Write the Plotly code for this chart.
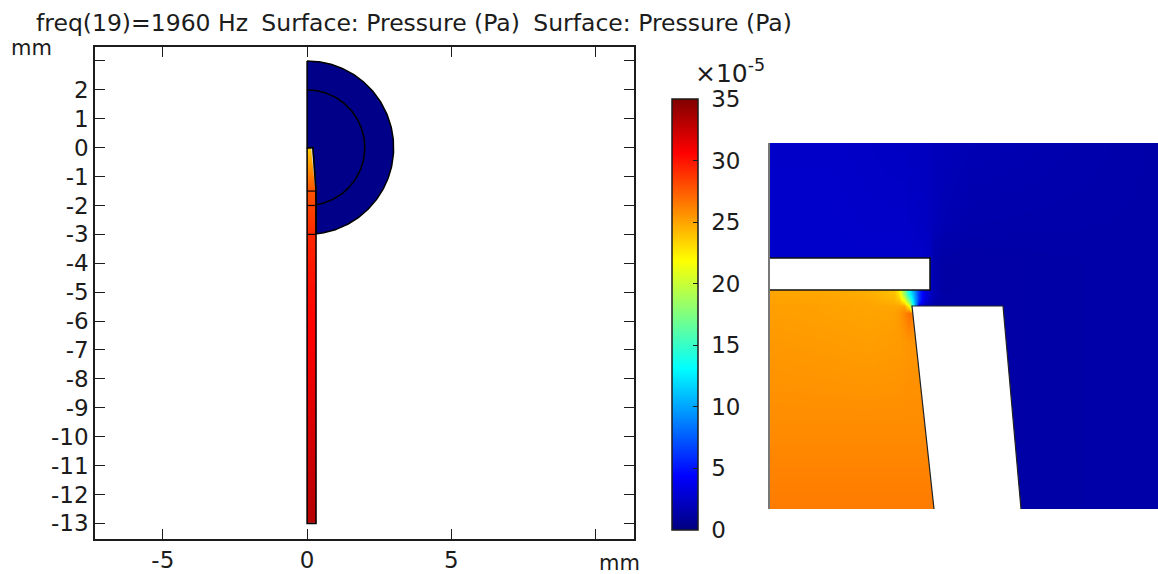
import numpy as np
import plotly.graph_objects as go

W, H = 1158, 574
FONT = "DejaVu Sans"
INK = "#1c1c1c"
NAVY = "#000088"
FS = 23

title_sep = "\u00a0\u2005"
title_parts = ["freq(19)=1960 Hz", "Surface: Pressure (Pa)", "Surface: Pressure (Pa)"]
x_tick_vals = [-5, 0, 5]
x_tick_text = ["-5", "0", "5"]
x_unlabelled = [10]
y_tick_vals = [2, 1, 0, -1, -2, -3, -4, -5, -6, -7, -8, -9, -10, -11, -12, -13]
y_tick_text = ["2", "1", "0", "-1", "-2", "-3", "-4", "-5", "-6", "-7", "-8", "-9", "-10", "-11", "-12", "-13"]
y_unlabelled = [3]
cbar_ticks = [0, 5, 10, 15, 20, 25, 30, 35]
cbar_text = ["\u00a00", "\u00a05", "\u00a010", "\u00a015", "\u00a020", "\u00a025", "\u00a030", "\u00a035"]

jet = [[0, "#000080"], [0.125, "#0000ff"], [0.375, "#00ffff"], [0.625, "#ffff00"],
       [0.875, "#ff0000"], [1, "#800000"]]

# left panel: geometry (mm)
outer_r, inner_r = 3.0, 2.0
tube_w = 0.31
tube_x = [0.001, 0.002, 0.308, 0.309]
tube_y = [-0.01, -0.02, -0.5, -1.0, -1.5, -2, -3, -4, -5, -7, -9, -11, -12.98, -12.99]
tube_p = [23.5, 23.5, 25.0, 26.5, 27.8, 28.3, 29.3, 29.8, 30.2, 30.8, 31.6, 32.4, 33.2, 33.2]
tube_top_x = 0.2
wedge_x = [0.13, tube_top_x, tube_w, 0.29]
wedge_y = [0, 0, -1.5, -1.5]
section_y = [-1.5, -2, -3]

# right panel: zoom window (mm-like local units)
z_x = [0, .06, .10, .125, .13, .135, .14, .145, .15, .155, .16, .165, .175, .2, .389]
z_y = [0, -.08, -.115, -.147, -.151, -.155, -.159, -.163, -.17, -.2, -.28, -.366]
z_p = [
    [2.5, 2.5, 2.4, 2.3, 2.3, 2.3, 2.2, 2.2, 2.2, 2.2, 2.1, 2.05, 2.0, 1.8, 1.4],
    [2.6, 2.6, 2.5, 2.5, 2.5, 2.5, 2.4, 2.4, 2.3, 2.3, 2.15, 1.95, 1.75, 1.5, 1.4],
    [2.6, 2.6, 2.6, 2.6, 2.6, 2.6, 2.6, 2.5, 2.5, 2.5, 2.3, 1.5, 1.3, 1.3, 1.4],
    [25.0, 24.9, 24.7, 23.9, 22.4, 18.0, 13.0, 9.5, 6.0, 3.5, 2.5, 1.6, 1.2, 1.3, 1.4],
    [25.0, 24.9, 24.7, 24.1, 22.7, 18.5, 13.5, 10.0, 6.0, 3.6, 2.5, 1.7, 1.3, 1.3, 1.4],
    [25.1, 25.0, 24.8, 24.3, 23.4, 20.5, 15.5, 10.5, 6.0, 3.5, 2.4, 1.6, 1.3, 1.3, 1.4],
    [25.1, 25.0, 24.9, 24.6, 24.2, 22.5, 18.0, 11.0, 5.5, 3.0, 2.2, 1.5, 1.3, 1.3, 1.4],
    [25.2, 25.1, 25.0, 24.9, 25.0, 25.1, 22.0, 12.0, 3.0, 2.0, 1.5, 1.3, 1.3, 1.3, 1.4],
    [25.2, 25.1, 25.0, 25.1, 25.4, 26.0, 26.8, 26.0, 25.0, 25.0, 25.0, 25.0, 25.0, 1.3, 1.4],
    [25.4, 25.3, 25.2, 25.3, 25.3, 25.4, 25.5, 25.5, 25.5, 25.5, 25.5, 25.5, 25.5, 1.3, 1.4],
    [25.8, 25.8, 25.8, 25.8, 25.8, 25.8, 25.8, 25.8, 25.8, 25.8, 25.8, 25.8, 25.8, 1.3, 1.4],
    [26.4, 26.4, 26.4, 26.4, 26.4, 26.4, 26.4, 26.4, 26.4, 26.4, 26.4, 26.4, 26.4, 1.3, 1.4],
]
plate_x = [0, .161, .161, 0, 0]
plate_y = [-.115, -.115, -.147, -.147, -.115]
wall_x = [.165, .143, .234, .252]
wall_y = [-.366, -.163, -.163, -.366]
edge_x = [0, 0]
edge_y = [0, -.366]


def px_x(a, b):
    return [a / W, b / W]


def px_y(top, bottom):
    return [1 - bottom / H, 1 - top / H]


fig = go.Figure()

# tube pressure field
fig.add_trace(go.Heatmap(x=tube_x, y=tube_y, z=[[v] * len(tube_x) for v in tube_p], coloraxis="coloraxis",
                         zsmooth="best", hoverinfo="skip", xaxis="x", yaxis="y"))

# blue acoustic domain with tube cut-out
t = np.radians(np.arange(90, -85.01, -1.0))
end_ang = -np.arccos(tube_w / outer_r)
t = np.append(t[t > end_ang], end_ang)
ox, oy = outer_r * np.cos(t), outer_r * np.sin(t)
fig.add_trace(go.Scatter(
    x=list(ox) + [tube_w, tube_w, tube_top_x, 0, 0],
    y=list(oy) + [-1.5, -1.5, 0, 0, outer_r],
    mode="lines", fill="toself", fillcolor=NAVY, line=dict(color="black", width=1.5),
    hoverinfo="skip", xaxis="x", yaxis="y"))
# inner boundary
t2 = np.radians(np.arange(90, -82, -1.0))
fig.add_trace(go.Scatter(x=inner_r * np.cos(t2), y=inner_r * np.sin(t2), mode="lines",
                         line=dict(color="black", width=1.5), hoverinfo="skip", xaxis="x", yaxis="y"))
# wall wedge
fig.add_trace(go.Scatter(x=wedge_x, y=wedge_y, mode="lines", fill="toself", fillcolor="#d8d8d8",
                         line=dict(color="#444444", width=1), hoverinfo="skip", xaxis="x", yaxis="y"))
# tube outline
fig.add_trace(go.Scatter(x=[0, tube_top_x, tube_w, tube_w, 0, 0], y=[0, 0, -1.5, -13, -13, 0], mode="lines",
                         line=dict(color="black", width=1.5), hoverinfo="skip", xaxis="x", yaxis="y"))
for sy in section_y:
    fig.add_trace(go.Scatter(x=[0, tube_w], y=[sy, sy], mode="lines",
                             line=dict(color="black", width=1.2), hoverinfo="skip", xaxis="x", yaxis="y"))

# zoomed field
fig.add_trace(go.Heatmap(x=z_x, y=z_y, z=z_p, coloraxis="coloraxis", zsmooth="best",
                         hoverinfo="skip", xaxis="x2", yaxis="y2"))
fig.add_trace(go.Scatter(x=plate_x, y=plate_y, mode="lines", fill="toself", fillcolor="white",
                         line=dict(color="#111111", width=1.5), hoverinfo="skip", xaxis="x2", yaxis="y2"))
fig.add_trace(go.Scatter(x=wall_x, y=wall_y, mode="lines", fill="toself", fillcolor="white",
                         line=dict(color="#222222", width=1.2), hoverinfo="skip", xaxis="x2", yaxis="y2"))
fig.add_trace(go.Scatter(x=edge_x, y=edge_y, mode="lines", line=dict(color="#777777", width=2),
                         hoverinfo="skip", xaxis="x2", yaxis="y2"))

# left-hand ticks of the colour bar
fig.add_trace(go.Scatter(x=[0], y=[0], mode="markers", marker=dict(opacity=0), hoverinfo="skip",
                         xaxis="x3", yaxis="y3"))

axis_line = dict(showline=True, linecolor=INK, linewidth=1.5, mirror="ticks", ticks="inside",
                 ticklen=10, tickwidth=1.2, tickcolor=INK, showgrid=False, zeroline=False,
                 tickfont=dict(family=FONT, size=FS, color=INK))
minor_tick = dict(ticks="inside", ticklen=10, tickwidth=1.2, tickcolor=INK, showgrid=False)

fig.update_layout(
    width=W, height=H, margin=dict(l=0, r=0, t=0, b=0, pad=0), showlegend=False,
    paper_bgcolor="white", plot_bgcolor="white",
    font=dict(family=FONT, size=FS, color=INK),
    title=dict(text=title_sep.join(title_parts), x=36 / W, xanchor="left", y=1 - 23 / H, yanchor="middle",
               font=dict(family=FONT, size=23.5, color=INK)),
    xaxis=dict(domain=px_x(95, 634), range=[-7.35, 11.33], tickmode="array", tickvals=x_tick_vals,
               ticktext=x_tick_text, minor=dict(tickvals=x_unlabelled, **minor_tick), **axis_line),
    yaxis=dict(domain=px_y(47, 539), range=[-13.54, 3.484], tickmode="array", tickvals=y_tick_vals,
               ticktext=y_tick_text, minor=dict(tickvals=y_unlabelled, **minor_tick), **axis_line),
    xaxis2=dict(domain=px_x(768, 1158), range=[-.001, .389], visible=False),
    yaxis2=dict(domain=px_y(143, 509), range=[-.366, 0], visible=False),
    xaxis3=dict(domain=px_x(672, 698), range=[0, 1], visible=False),
    yaxis3=dict(domain=px_y(99, 530), range=[0, 35], side="left", anchor="x3", showline=False,
                ticks="inside", ticklen=5, tickwidth=1, tickcolor=INK, tickvals=cbar_ticks,
                showticklabels=False, showgrid=False, zeroline=False),
    coloraxis=dict(colorscale=jet, cmin=0, cmax=35, colorbar=dict(
        x=672 / W, xanchor="left", xpad=0, y=1 - 530 / H, yanchor="bottom", ypad=0,
        len=431 / H, lenmode="fraction", thickness=26, thicknessmode="pixels",
        outlinecolor=INK, outlinewidth=1.5, tickmode="array", tickvals=cbar_ticks, ticktext=cbar_text,
        ticks="inside", ticklen=5, tickwidth=1, tickcolor=INK,
        tickfont=dict(family=FONT, size=FS, color=INK))),
    annotations=[
        dict(text="mm", x=31 / W, y=1 - 48 / H, xref="paper", yref="paper", showarrow=False,
             xanchor="center", yanchor="middle", font=dict(family=FONT, size=FS - 2, color=INK)),
        dict(text="mm", x=619 / W, y=1 - 563 / H, xref="paper", yref="paper", showarrow=False,
             xanchor="center", yanchor="middle", font=dict(family=FONT, size=FS - 2, color=INK)),
        dict(text="×10<sup>-5</sup>", x=730 / W, y=1 - 72 / H, xref="paper", yref="paper", showarrow=False,
             xanchor="center", yanchor="middle", font=dict(family=FONT, size=FS + 2, color=INK)),
    ],
)

fig.write_html("out.html", config=dict(displayModeBar=False),
               post_script="document.body.style.margin='0';document.body.style.overflow='hidden';window.dispatchEvent(new Event('resize'));")
